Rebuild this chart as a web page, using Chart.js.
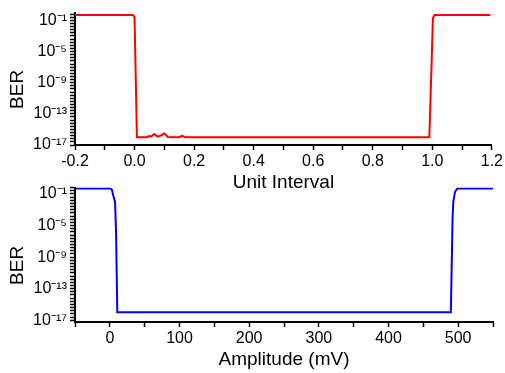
<!DOCTYPE html>
<html>
<head>
<meta charset="utf-8">
<script src="https://cdn.jsdelivr.net/npm/chart.js@4.4.0/dist/chart.umd.min.js"></script>
<style>
  body { margin: 0; background: #fff; }
  #wrap { position: relative; width: 505px; height: 373px; }
  canvas { position: absolute; left: 0; }
  #ui-chart { top: 0; }
  #mv-chart { top: 175px; }
</style>
</head>
<body>
<div id="wrap">
  <canvas id="ui-chart" width="505" height="200"></canvas>
  <canvas id="mv-chart" width="505" height="198"></canvas>
</div>
<script>
// BER vs unit interval (red)
var uiX = [-0.2, -0.005, 0.0, 0.008, 0.04, 0.048, 0.056, 0.066, 0.078, 0.09, 0.1, 0.112, 0.15, 0.16, 0.17, 0.99, 0.998, 1.002, 1.008, 1.195];
var uiBer = [0.5, 0.5, 0.25, 1e-16, 1e-16, 1.4e-16, 1.2e-16, 2.5e-16, 1.2e-16, 1.8e-16, 3e-16, 1.1e-16, 1e-16, 1.5e-16, 1e-16, 1e-16, 1e-6, 0.2, 0.5, 0.5];

// BER vs amplitude (blue)
var mvX = [-50, 0, 3, 5, 7.5, 9, 10.7, 489.5, 492, 493, 495.5, 499, 550];
var mvBer = [0.5, 0.5, 0.35, 0.06, 0.01, 1e-6, 1e-16, 1e-16, 1e-4, 0.01, 0.2, 0.5, 0.5];

// tick labels
var uiLabels = [-0.2, 0.0, 0.2, 0.4, 0.6, 0.8, 1.0, 1.2];
var mvLabels = [0, 100, 200, 300, 400, 500];
var berExps = [-1, -5, -9, -13, -17];

var FONT = "'Liberation Sans', Arial, sans-serif";
var SUP = {'-': '\u207B', '0': '\u2070', '1': '\u00B9', '2': '\u00B2', '3': '\u00B3', '4': '\u2074',
           '5': '\u2075', '6': '\u2076', '7': '\u2077', '8': '\u2078', '9': '\u2079'};

function powLabel(e) {
    var s = String(e).split('').map(function(c) { return SUP[c]; }).join('');
    return '10' + s;
}

function makePoints(xs, ys) {
    return xs.map(function(x, i) { return {x: x, y: ys[i]}; });
}

function hasValue(list, v) {
    return list.some(function(l) { return Math.abs(l - v) < 1e-9; });
}

function makeChart(id, xs, ys, color, xMin, xMax, xStep, xLabels, xFormat, xTitle, yMin, yMax, pad) {
    return new Chart(document.getElementById(id), {
        type: 'line',
        data: {
            datasets: [{
                data: makePoints(xs, ys),
                borderColor: color,
                borderWidth: 2,
                pointRadius: 0,
                fill: false,
                tension: 0
            }]
        },
        options: {
            responsive: false,
            animation: false,
            devicePixelRatio: 1,
            layout: { padding: pad, autoPadding: false },
            plugins: {
                legend: { display: false },
                tooltip: { enabled: false }
            },
            scales: {
                x: {
                    type: 'linear',
                    min: xMin,
                    max: xMax,
                    afterFit: function(scale) { scale.height = 49; },
                    afterBuildTicks: function(scale) {
                        var t = [];
                        var n = Math.round((xMax - xMin) / xStep);
                        for (var k = 0; k <= n; k++) {
                            t.push({value: Math.round((xMin + k * xStep) * 1000) / 1000});
                        }
                        scale.ticks = t;
                    },
                    ticks: {
                        autoSkip: false,
                        maxRotation: 0,
                        padding: 2,
                        color: '#000',
                        font: { family: FONT, size: 16 },
                        callback: function(value) {
                            return hasValue(xLabels, value) ? xFormat(value) : '';
                        }
                    },
                    grid: { drawOnChartArea: false, drawTicks: true, tickLength: 5, tickColor: '#000', tickWidth: 1.5 },
                    border: { display: true, color: '#000', width: 2 },
                    title: {
                        display: true,
                        text: xTitle,
                        color: '#000',
                        font: { family: FONT, size: 19 },
                        padding: 0
                    }
                },
                y: {
                    type: 'logarithmic',
                    min: yMin,
                    max: yMax,
                    afterFit: function(scale) { scale.width = 75; },
                    afterBuildTicks: function(scale) {
                        var t = [];
                        for (var k = 0; k <= 45; k++) {
                            var v = Math.pow(10, -17 + k * 0.4);
                            if (v >= yMin * 0.999 && v <= yMax * 1.001) t.push({value: v});
                        }
                        scale.ticks = t;
                    },
                    ticks: {
                        autoSkip: false,
                        padding: 3,
                        color: '#000',
                        font: { family: FONT, size: 16 },
                        callback: function(value) {
                            var e = Math.log10(value);
                            var r = Math.round(e);
                            if (Math.abs(e - r) < 1e-6 && berExps.indexOf(r) >= 0) return powLabel(r);
                            return '';
                        }
                    },
                    grid: { drawOnChartArea: false, drawTicks: true, tickLength: 5, tickColor: '#000', tickWidth: 1.5 },
                    border: { display: true, color: '#000', width: 2 },
                    title: {
                        display: true,
                        text: 'BER    ',
                        color: '#000',
                        font: { family: FONT, size: 19 },
                        padding: { top: 6, bottom: 0 }
                    }
                }
            }
        }
    });
}

var uiChart = makeChart('ui-chart', uiX, uiBer, '#ff0000', -0.2, 1.2, 0.1, uiLabels,
    function(v) { return v.toFixed(1); }, 'Unit Interval', 1e-17, 1,
    { top: 9, right: 12, bottom: 6, left: 0 });

var mvChart = makeChart('mv-chart', mvX, mvBer, '#0000ff', -50, 550, 50, mvLabels,
    function(v) { return String(v); }, 'Amplitude (mV)', Math.pow(10, -17.19), Math.pow(10, -0.19),
    { top: 10, right: 12, bottom: 2, left: 0 });
</script>
</body>
</html>
